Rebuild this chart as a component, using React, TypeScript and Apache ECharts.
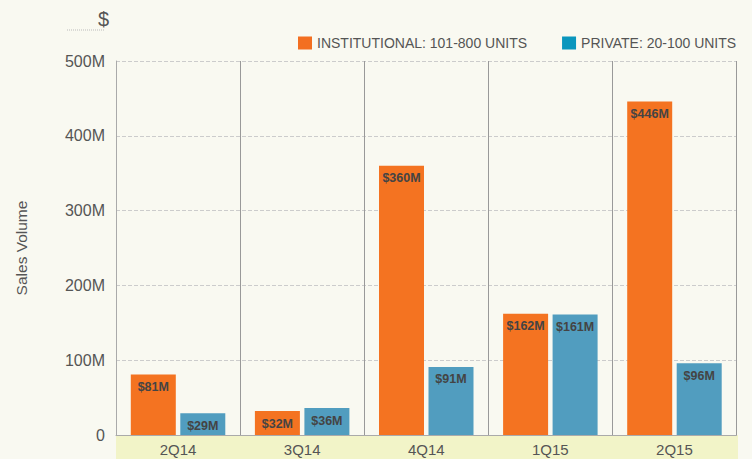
import React, { useEffect, useRef } from "react";
import * as echarts from "echarts";

const categories = ["2Q14", "3Q14", "4Q14", "1Q15", "2Q15"];
const institutional = [81, 32, 360, 162, 446];
const privateVals = [29, 36, 91, 161, 96];
const yTicks = [0, 100, 200, 300, 400, 500];
const seriesNames = ["INSTITUTIONAL: 101-800 UNITS", "PRIVATE: 20-100 UNITS"];

export default function App() {
  const ref = useRef<HTMLDivElement>(null);
  useEffect(() => {
    if (!ref.current) return;
    const chart = echarts.init(ref.current, null, { renderer: "svg" });
    const font = "Liberation Sans, Arial, Helvetica, sans-serif";
    const label = {
      show: true,
      position: "insideTop",
      distance: 6,
      color: "#444",
      fontSize: 12.5,
      fontWeight: "bold",
      fontFamily: font,
      formatter: (p: any) => "$" + p.value + "M",
    };
    chart.setOption({
      animation: false,
      backgroundColor: "#f9f9f1",
      textStyle: { fontFamily: font },
      title: {
        text: "$",
        left: 93,
        top: 4,
        textStyle: { fontSize: 20, color: "#555", fontWeight: "normal", fontFamily: font },
      },
      graphic: [
        {
          type: "line",
          shape: { x1: 67, y1: 30, x2: 105, y2: 30 },
          style: { stroke: "#bbb", lineWidth: 1, lineDash: [1, 1] },
        },
        {
          type: "rect",
          z: -1,
          shape: { x: 116, y: 435, width: 622, height: 24 },
          style: { fill: "#f2f4c8" },
        },
      ],
      legend: {
        left: 293,
        top: 31,
        itemWidth: 14,
        itemHeight: 13,
        itemGap: 35,
        icon: "rect",
        textStyle: { fontSize: 14, color: "#555", fontFamily: font },
        data: [
          { name: seriesNames[0], itemStyle: { color: "#f36f21" } },
          { name: seriesNames[1], itemStyle: { color: "#0a96bd" } },
        ],
      },
      grid: { left: 116, right: 15.5, top: 61, bottom: 24 },
      xAxis: {
        type: "category",
        data: categories,
        axisLine: { show: true, lineStyle: { color: "#aaa", width: 1 } },
        axisTick: { show: false },
        splitLine: { show: true, lineStyle: { color: "#999", width: 1 } },
        axisLabel: { color: "#555", fontSize: 15, margin: 7, fontFamily: font },
      },
      yAxis: {
        type: "value",
        min: 0,
        max: 500,
        interval: 100,
        name: "Sales Volume",
        nameLocation: "middle",
        nameRotate: 90,
        nameGap: 87,
        nameTextStyle: { fontSize: 15.5, color: "#555", fontFamily: font },
        axisLine: { show: true, lineStyle: { color: "#aaa", width: 1 } },
        axisTick: { show: false },
        splitLine: { show: true, lineStyle: { color: "#ccc", type: [4, 2], width: 1 } },
        axisLabel: {
          color: "#555",
          fontSize: 16,
          margin: 11,
          fontFamily: font,
          formatter: (v: number) => (v === 0 ? "0" : v + "M"),
          customValues: yTicks,
        },
      },
      series: [
        {
          name: seriesNames[0],
          type: "bar",
          data: institutional,
          barWidth: 45,
          barGap: "10%",
          itemStyle: { color: "#f47321" },
          label,
        },
        {
          name: seriesNames[1],
          type: "bar",
          data: privateVals,
          barWidth: 45,
          barGap: "10%",
          itemStyle: { color: "#519dbf" },
          label,
        },
      ],
    });
    return () => chart.dispose();
  }, []);
  return <div ref={ref} style={{ width: 752, height: 459, position: "fixed", left: 0, top: 0 }} />;
}
